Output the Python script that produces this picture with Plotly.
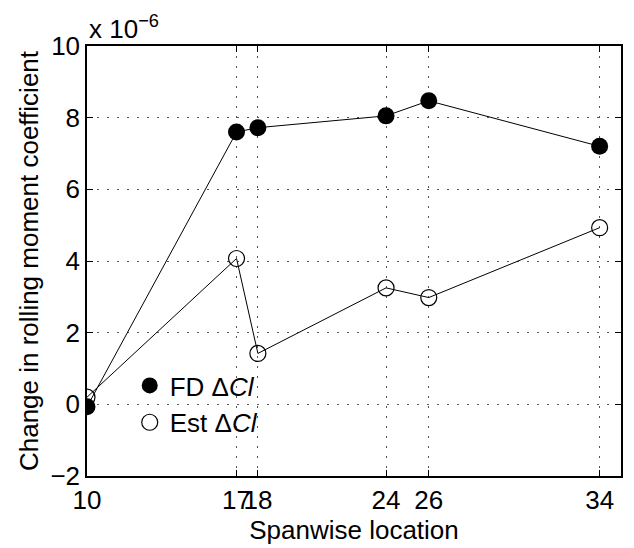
import plotly.graph_objects as go

spanwise = [10, 17, 18, 24, 26, 34]
fd_dcl = [-0.07, 7.6, 7.72, 8.05, 8.47, 7.2]
est_dcl = [0.2, 4.07, 1.42, 3.25, 2.98, 4.93]
x_ticks = [10, 17, 18, 24, 26, 34]
y_ticks = [-2, 0, 2, 4, 6, 8, 10]
scale = 1e-6

FONT = "Liberation Sans, Arial, Helvetica, sans-serif"
FS = 26

fig = go.Figure()

fig.add_trace(go.Scatter(
    x=spanwise, y=[v * scale for v in est_dcl], mode="lines+markers",
    line=dict(color="black", width=1),
    marker=dict(symbol="circle-open", size=16, color="black", line=dict(width=1.2)),
    showlegend=False))
fig.add_trace(go.Scatter(
    x=spanwise, y=[v * scale for v in fd_dcl], mode="lines+markers",
    line=dict(color="black", width=1),
    marker=dict(symbol="circle", size=17, color="black"),
    showlegend=False))

# legend entries (marker only, as in the reference)
fig.add_trace(go.Scatter(
    x=[None], y=[None], mode="markers", name="FD \u0394<i>Cl</i>",
    marker=dict(symbol="circle", size=17, color="black")))
fig.add_trace(go.Scatter(
    x=[None], y=[None], mode="markers", name="Est \u0394<i>Cl</i>",
    marker=dict(symbol="circle-open", size=16, color="black", line=dict(width=1.2))))

grid = dict(showgrid=True, gridcolor="#555555", gridwidth=1, griddash="2px,8px")
common = dict(ticks="inside", ticklen=6, tickwidth=1, tickcolor="black",
              showline=True, linecolor="black", linewidth=1.5, mirror="ticks",
              zeroline=False, automargin=False, tickangle=0,
              tickfont=dict(size=FS, color="black", family=FONT))

fig.update_xaxes(
    range=[10, 35], tickmode="array", tickvals=x_ticks,
    ticktext=[str(t) for t in x_ticks],
    title=dict(text="Spanwise location", font=dict(size=FS, color="black", family=FONT), standoff=2),
    **common, **grid)
fig.update_yaxes(
    range=[-2 * scale, 10 * scale], tickmode="array",
    tickvals=[t * scale for t in y_ticks],
    ticktext=["\u22122" if t < 0 else str(t) for t in y_ticks],
    title=dict(text="Change in rolling moment coefficient", font=dict(size=FS, color="black", family=FONT), standoff=4),
    **common, **grid)

fig.add_annotation(
    x=0, y=1, xref="paper", yref="paper", xanchor="left", yanchor="bottom",
    yshift=0, text="x 10<sup>\u22126</sup>", showarrow=False,
    font=dict(size=FS, color="black", family=FONT))

fig.update_layout(
    width=634, height=548,
    margin=dict(l=87, r=13, t=46, b=72),
    paper_bgcolor="white", plot_bgcolor="white",
    font=dict(family=FONT, color="black"),
    legend=dict(x=0.08, y=0.265, xanchor="left", yanchor="top",
                bgcolor="rgba(0,0,0,0)", borderwidth=0,
                font=dict(size=FS, color="black", family=FONT),
                itemwidth=30, tracegroupgap=0),
)

fig.write_html("out.html")
